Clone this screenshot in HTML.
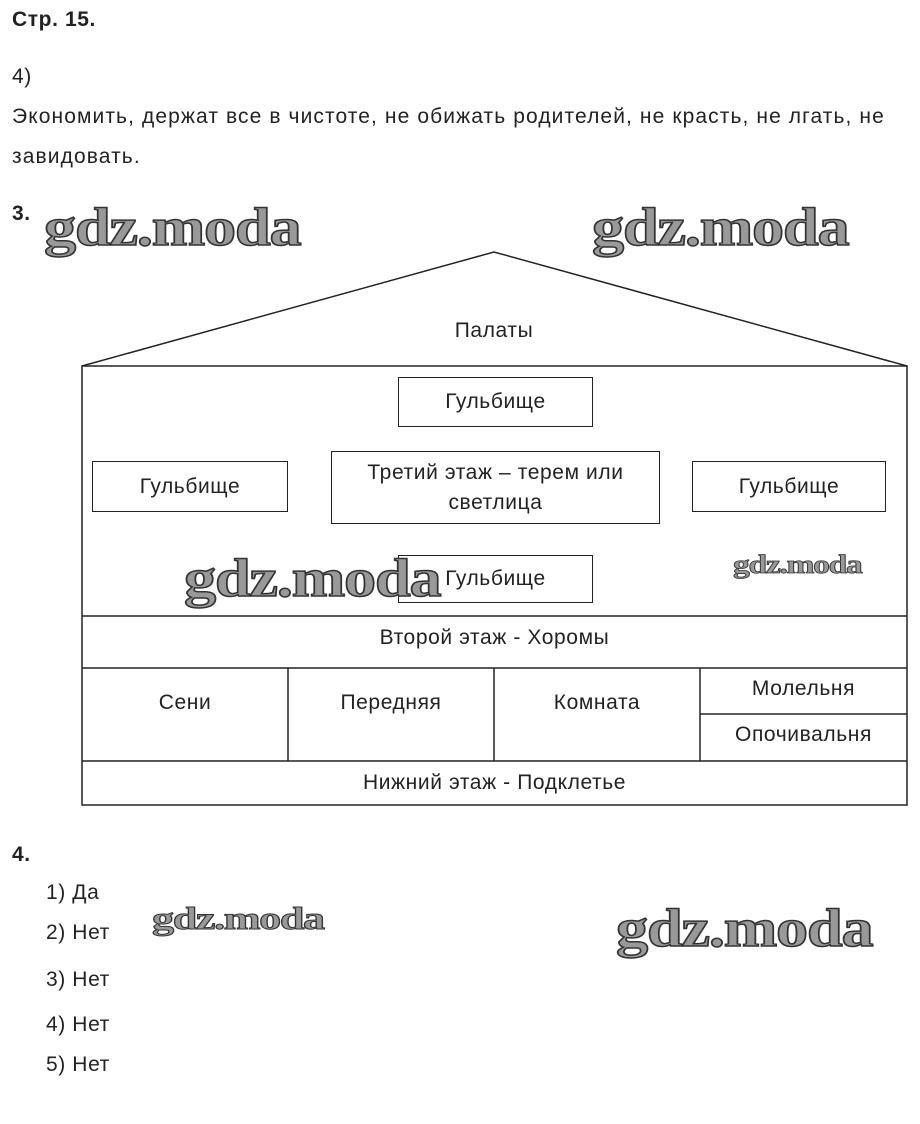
<!DOCTYPE html>
<html><head><meta charset="utf-8"><style>
body{margin:0;width:920px;height:1124px;background:#fff;position:relative;font-family:"Liberation Sans",Arial,sans-serif;color:#222;overflow:hidden}
.t{position:absolute;font-size:21px;letter-spacing:0.6px;white-space:nowrap}
.c{position:absolute;font-size:21px;letter-spacing:0.6px;white-space:nowrap;text-align:center}
.b{position:absolute;border:1.5px solid #222;box-sizing:border-box;display:flex;align-items:center;justify-content:center;text-align:center;font-size:21px;letter-spacing:0.6px;line-height:30px}
.w{position:absolute;font-family:"Liberation Serif",serif;font-weight:bold;color:#999;-webkit-text-stroke:1.5px #333;white-space:nowrap;letter-spacing:-1px;transform-origin:0 0}
</style></head><body>
<div class="t" style="left:12px;top:8px;font-weight:bold">Стр. 15.</div>
<div class="t" style="left:12px;top:65px">4)</div>
<div class="t" style="left:12px;top:105px;letter-spacing:1.1px">Экономить, держат все в чистоте, не обижать родителей, не красть, не лгать, не</div>
<div class="t" style="left:12px;top:145px;letter-spacing:1.1px">завидовать.</div>
<div class="t" style="left:12px;top:202px;font-weight:bold">3.</div>
<svg style="position:absolute;left:0;top:0" width="920" height="1124">
<g stroke="#222" stroke-width="1.5" fill="none">
<polyline points="82,366 494,252 907,366"/>
<rect x="82" y="366" width="825" height="439"/>
<line x1="82" y1="616" x2="907" y2="616"/>
<line x1="82" y1="668" x2="907" y2="668"/>
<line x1="82" y1="761" x2="907" y2="761"/>
<line x1="288" y1="668" x2="288" y2="761"/>
<line x1="494" y1="668" x2="494" y2="761"/>
<line x1="700" y1="668" x2="700" y2="761"/>
<line x1="700" y1="714" x2="907" y2="714"/>
</g></svg>
<div class="c" style="left:394px;width:200px;top:319px">Палаты</div>
<div class="b" style="left:398px;top:377px;width:195px;height:50px">Гульбище</div>
<div class="b" style="left:92px;top:461px;width:196px;height:51px">Гульбище</div>
<div class="b" style="left:331px;top:451px;width:329px;height:73px">Третий этаж – терем или<br>светлица</div>
<div class="b" style="left:692px;top:461px;width:194px;height:51px">Гульбище</div>
<div class="b" style="left:398px;top:555px;width:195px;height:48px">Гульбище</div>
<div class="c" style="left:82px;width:825px;top:626px">Второй этаж - Хоромы</div>
<div class="c" style="left:82px;width:206px;top:691px">Сени</div>
<div class="c" style="left:288px;width:206px;top:691px">Передняя</div>
<div class="c" style="left:494px;width:206px;top:691px">Комната</div>
<div class="c" style="left:700px;width:207px;top:677px">Молельня</div>
<div class="c" style="left:700px;width:207px;top:723px">Опочивальня</div>
<div class="c" style="left:82px;width:825px;top:771px">Нижний этаж - Подклетье</div>
<div class="t" style="left:12px;top:843px;font-weight:bold">4.</div>
<div class="t" style="left:46px;top:881px">1) Да</div>
<div class="t" style="left:46px;top:921px">2) Нет</div>
<div class="t" style="left:46px;top:968px">3) Нет</div>
<div class="t" style="left:46px;top:1013px">4) Нет</div>
<div class="t" style="left:46px;top:1053px">5) Нет</div>
<div class="w" style="left:44px;top:196px;font-size:54px;transform:scaleX(1.19)">gdz.moda</div>
<div class="w" style="left:592px;top:196px;font-size:54px;transform:scaleX(1.19)">gdz.moda</div>
<div class="w" style="left:184px;top:547px;font-size:54px;transform:scaleX(1.19)">gdz.moda</div>
<div class="w" style="left:733px;top:550px;font-size:26px;-webkit-text-stroke:0.8px #333;transform:scaleX(1.29)">gdz.moda</div>
<div class="w" style="left:152px;top:900px;font-size:32px;-webkit-text-stroke:1px #333;transform:scaleX(1.38)">gdz.moda</div>
<div class="w" style="left:616px;top:897px;font-size:54px;transform:scaleX(1.19)">gdz.moda</div>
</body></html>
